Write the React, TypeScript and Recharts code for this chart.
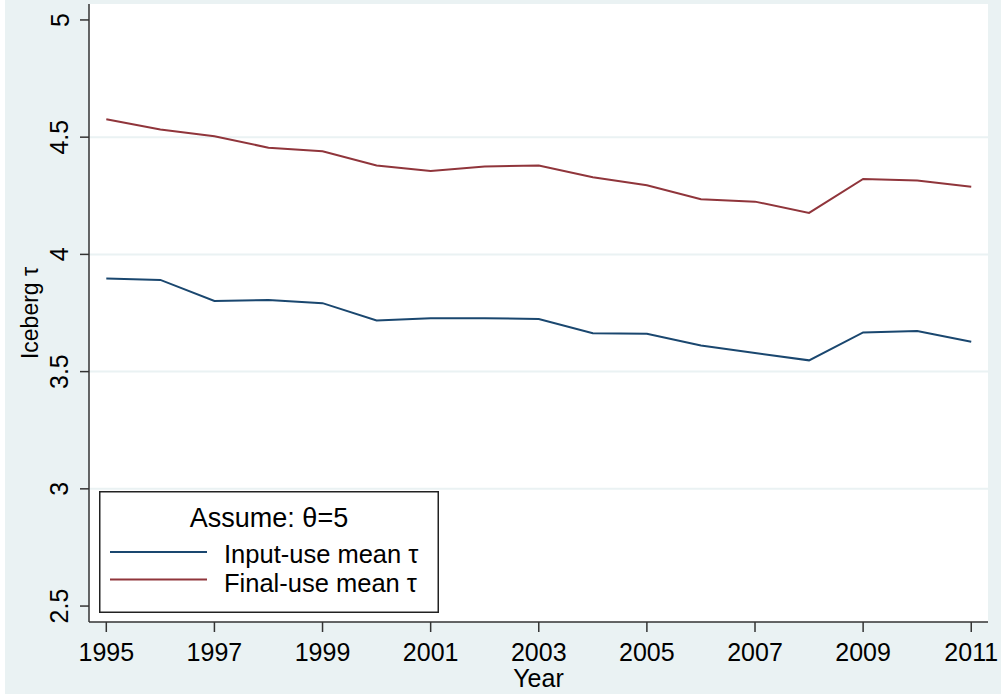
import React from 'react';
import { LineChart, Line, XAxis, YAxis, CartesianGrid, Legend, Label } from 'recharts';

const years = [1995, 1996, 1997, 1998, 1999, 2000, 2001, 2002, 2003, 2004, 2005, 2006, 2007, 2008, 2009, 2010, 2011];
const inputUse = [3.897, 3.891, 3.801, 3.805, 3.792, 3.718, 3.728, 3.728, 3.724, 3.664, 3.661, 3.611, 3.579, 3.548, 3.667, 3.673, 3.627];
const finalUse = [4.576, 4.533, 4.504, 4.455, 4.44, 4.379, 4.356, 4.375, 4.379, 4.329, 4.295, 4.235, 4.225, 4.177, 4.322, 4.315, 4.289];
const xTicks = [1995, 1997, 1999, 2001, 2003, 2005, 2007, 2009, 2011];
const yTicks = [2.5, 3, 3.5, 4, 4.5, 5];
const gridValues = [3, 3.5, 4, 4.5];
const seriesKeys = ['inputUse', 'finalUse'];
const seriesNames = ['Input-use mean τ', 'Final-use mean τ'];
const legendTitle = 'Assume: θ=5';
const xTitle = 'Year';
const yTitle = 'Iceberg τ';

const data = years.map((year, i) => ({ year, inputUse: inputUse[i], finalUse: finalUse[i] }));

const FONT = '"Liberation Sans", Arial, Helvetica, sans-serif';
const NAVY = '#1a476f';
const MAROON = '#90353b';
const BG = '#eaf2f3';
const AXIS = '#333333';

const XTick = (props: any) => {
  const { x, y, payload } = props;
  return (
    <text x={x} y={y} dy={27} textAnchor="middle" fontSize={25} fill="#000" fontFamily={FONT}>
      {payload.value}
    </text>
  );
};

const YTick = (props: any) => {
  const { x, y, payload } = props;
  const bx = x - 9.5;
  return (
    <text x={bx} y={y} transform={`rotate(-90 ${bx} ${y})`} textAnchor="middle" fontSize={25} fill="#000" fontFamily={FONT}>
      {payload.value}
    </text>
  );
};

const YTitle = (props: any) => {
  const vb = props.viewBox;
  const cx = vb.x + 37.5;
  const cy = vb.y + vb.height / 2;
  return (
    <text x={cx} y={cy} transform={`rotate(-90 ${cx} ${cy})`} textAnchor="middle" fontSize={23} fill="#000" fontFamily={FONT}>
      {yTitle}
    </text>
  );
};

const XTitle = (props: any) => {
  const vb = props.viewBox;
  return (
    <text x={vb.x + vb.width / 2} y={vb.y + 65} textAnchor="middle" fontSize={25} fill="#000" fontFamily={FONT}>
      {xTitle}
    </text>
  );
};

const renderLegend = (props: any) => {
  const payload = props.payload || [];
  const ordered = seriesKeys
    .map((k) => payload.find((p: any) => p.dataKey === k))
    .filter(Boolean);
  return (
    <svg width={340} height={122} style={{ display: 'block' }}>
      <rect x={0.75} y={0.75} width={338.5} height={120.5} fill="#fff" stroke="#222" strokeWidth={1.5} />
      <text x={170} y={36} textAnchor="middle" fontSize={27} fill="#000" fontFamily={FONT}>
        {legendTitle}
      </text>
      {ordered.map((p: any, i: number) => (
        <g key={i}>
          <line x1={11} x2={108} y1={61 + i * 27.5} y2={61 + i * 27.5} stroke={p.color} strokeWidth={2} />
          <text x={125} y={72 + i * 28.5} fontSize={25.5} fill="#000" fontFamily={FONT}>
            {p.value}
          </text>
        </g>
      ))}
    </svg>
  );
};

export default function App() {
  return (
    <div style={{ position: 'relative', width: 1001, height: 694, background: '#fff', overflow: 'hidden' }}>
      <style>{'body{margin:0;}'}</style>
      <div style={{ position: 'absolute', left: 5, top: 0, right: 0, bottom: 0, background: BG }} />
      <div style={{ position: 'absolute', left: 0, top: 0 }}>
        <LineChart width={1001} height={694} data={data} margin={{ top: 4, right: 13, bottom: 0, left: 0 }}>
          <CartesianGrid
            vertical={false}
            horizontal={true}
            horizontalValues={gridValues}
            stroke={BG}
            strokeWidth={2}
            fill="#ffffff"
            fillOpacity={1}
          />
          <XAxis
            dataKey="year"
            type="number"
            domain={[1994.68, 2011.31]}
            ticks={xTicks}
            interval={0}
            allowDataOverflow
            height={72}
            tickSize={10}
            tickMargin={2}
            axisLine={{ stroke: AXIS, strokeWidth: 1.5 }}
            tickLine={{ stroke: AXIS, strokeWidth: 1.5 }}
            tick={<XTick />}
          >
            <Label content={<XTitle />} />
          </XAxis>
          <YAxis
            type="number"
            domain={[2.432, 5.068]}
            ticks={yTicks}
            interval={0}
            allowDataOverflow
            width={89}
            tickSize={9}
            tickMargin={2}
            axisLine={{ stroke: AXIS, strokeWidth: 1.5 }}
            tickLine={{ stroke: AXIS, strokeWidth: 1.5 }}
            tick={<YTick />}
          >
            <Label content={<YTitle />} />
          </YAxis>
          <Line
            type="linear"
            dataKey="inputUse"
            name={seriesNames[0]}
            stroke={NAVY}
            strokeWidth={2}
            dot={false}
            activeDot={false}
            isAnimationActive={false}
          />
          <Line
            type="linear"
            dataKey="finalUse"
            name={seriesNames[1]}
            stroke={MAROON}
            strokeWidth={2}
            dot={false}
            activeDot={false}
            isAnimationActive={false}
          />
          <Legend
            layout="horizontal"
            verticalAlign="middle"
            align="center"
            wrapperStyle={{ left: 99, top: 491, width: 340, height: 122 }}
            content={renderLegend}
          />
        </LineChart>
      </div>
    </div>
  );
}
